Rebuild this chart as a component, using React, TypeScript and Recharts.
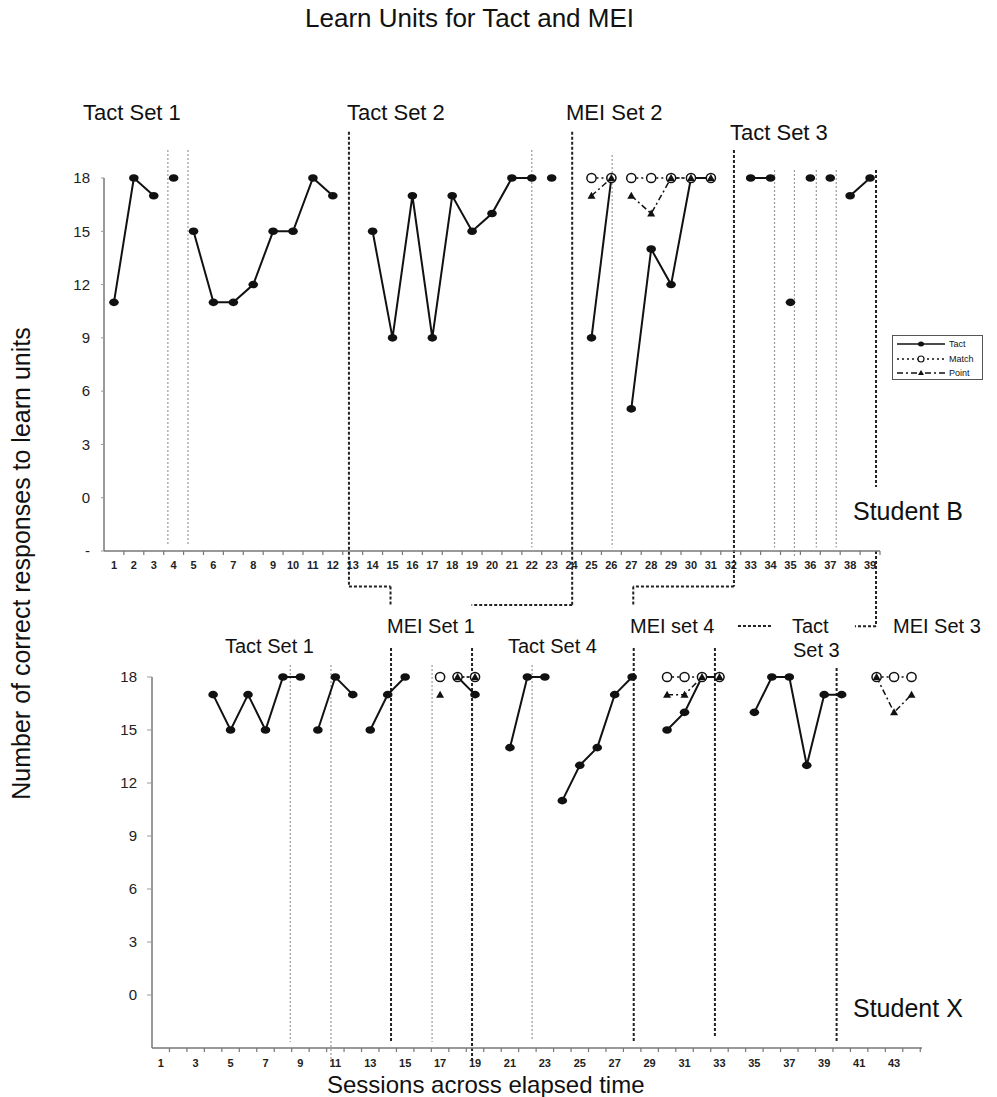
import React from 'react';
import { LineChart, Line, XAxis, YAxis, ReferenceLine } from 'recharts';

type Pt = [number, number];

// Student B (top panel): one array per connected run of sessions
const B_TACT: Pt[][] = [
  [[1, 11], [2, 18], [3, 17]],
  [[4, 18]],
  [[5, 15], [6, 11], [7, 11], [8, 12], [9, 15], [10, 15], [11, 18], [12, 17]],
  [[14, 15], [15, 9], [16, 17], [17, 9], [18, 17], [19, 15], [20, 16], [21, 18], [22, 18]],
  [[23, 18]],
  [[25, 9], [26, 18]],
  [[27, 5], [28, 14], [29, 12], [30, 18], [31, 18]],
  [[33, 18], [34, 18]],
  [[35, 11]],
  [[36, 18]],
  [[37, 18]],
  [[38, 17], [39, 18]],
];
const B_MATCH: Pt[][] = [
  [[25, 18], [26, 18]],
  [[27, 18], [28, 18], [29, 18], [30, 18], [31, 18]],
];
const B_POINT: Pt[][] = [
  [[25, 17], [26, 18]],
  [[27, 17], [28, 16], [29, 18], [30, 18], [31, 18]],
];

// Student X (bottom panel)
const X_TACT: Pt[][] = [
  [[4, 17], [5, 15], [6, 17], [7, 15], [8, 18], [9, 18]],
  [[10, 15], [11, 18], [12, 17]],
  [[13, 15], [14, 17], [15, 18]],
  [[18, 18], [19, 17]],
  [[21, 14], [22, 18], [23, 18]],
  [[24, 11], [25, 13], [26, 14], [27, 17], [28, 18]],
  [[30, 15], [31, 16], [32, 18], [33, 18]],
  [[35, 16], [36, 18], [37, 18], [38, 13], [39, 17], [40, 17]],
];
const X_MATCH: Pt[][] = [
  [[17, 18]],
  [[18, 18], [19, 18]],
  [[30, 18], [31, 18], [32, 18], [33, 18]],
  [[42, 18], [43, 18], [44, 18]],
];
const X_POINT: Pt[][] = [
  [[17, 17]],
  [[18, 18], [19, 18]],
  [[30, 17], [31, 17], [32, 18], [33, 18]],
  [[42, 18], [43, 16], [44, 17]],
];

const B_SESSIONS = Array.from({ length: 39 }, (_, i) => i + 1);
const X_SESSIONS = Array.from({ length: 44 }, (_, i) => i + 1);
const B_Y_TICKS = [-3, 0, 3, 6, 9, 12, 15, 18];
const X_Y_TICKS = [0, 3, 6, 9, 12, 15, 18];

// phase-change lines in session / score units: [session, top, bottom]
const B_MINOR: [number, number, number][] = [
  [3.71, 19.58, -2.7], [4.72, 19.58, -2.7], [22, 19.58, -2.8], [26.04, 19.3, -2.8],
  [34.2, 18.45, -2.8], [35.2, 18.45, -3.3], [36.3, 18.45, -2.8], [37.3, 18.45, -2.8],
];
const B_MAJOR: Pt[][] = [
  [[12.81, 20.6], [12.81, -5.0], [14.9, -5.0], [14.9, -6.04]],
  [[24.03, 20.6], [24.03, -6.04], [18.97, -6.04]],
  [[32.16, 19.58], [32.16, -5.0], [27.1, -5.0], [27.1, -6.04]],
  [[39.3, 18.45], [39.3, 0.6]],
  [[39.3, -3], [39.3, -7.23], [38.24, -7.23]],
];
const X_MINOR: [number, number, number][] = [
  [8.42, 18.68, -2.66], [10.75, 18.68, -3.79], [16.54, 18.68, -2.66], [22.27, 18.68, -2.55],
];
const X_MAJOR: [number, number, number][] = [
  [14.19, 19.64, -2.66], [18.83, 19.64, -3.79], [28.09, 19.64, -2.66],
  [32.74, 19.64, -2.37], [39.71, 18.51, -2.66],
];
const X_DASH: Pt[][] = [[[34.06, 20.89], [36.06, 20.89]]];

const LEGEND = ['Tact', 'Match', 'Point'];

const FONT = '"Liberation Sans", Arial, Helvetica, sans-serif';
const INK = '#111';

const TOP_MARGIN = { top: 178, right: 117, bottom: 69, left: 64 };
const BOT_MARGIN = { top: 117, right: 75, bottom: 19, left: 102 };
const B_DOMAIN: [number, number] = [0.5, 39.5];
const X_DOMAIN: [number, number] = [0.5, 44.6];
const B_HALF = (997 - 117 - 64 - 40) / (B_DOMAIN[1] - B_DOMAIN[0]) / 2;
const X_HALF = (997 - 75 - 102 - 50) / (X_DOMAIN[1] - X_DOMAIN[0]) / 2;

const rows = (seg: Pt[]) => seg.map(([s, v]) => ({ s, v }));

const tactDot = (p: any) =>
  p.cx == null ? <g key={p.index} /> : <ellipse key={p.index} cx={p.cx} cy={p.cy} rx={4.8} ry={3.8} fill={INK} />;
const matchDot = (p: any) =>
  p.cx == null ? <g key={p.index} /> : (
    <circle key={p.index} cx={p.cx} cy={p.cy} r={4.6} fill="#fff" stroke={INK} strokeWidth={1.5} />
  );
const pointDot = (p: any) =>
  p.cx == null ? <g key={p.index} /> : (
    <path key={p.index} d={`M${p.cx},${p.cy - 4}L${p.cx + 4},${p.cy + 3}L${p.cx - 4},${p.cy + 3}Z`} fill={INK} />
  );

function series(tact: Pt[][], match: Pt[][], point: Pt[][]) {
  return [
    ...tact.map((seg, i) => (
      <Line key={`t${i}`} data={rows(seg)} dataKey="v" type="linear" stroke={INK} strokeWidth={2}
        dot={tactDot} activeDot={false} isAnimationActive={false} legendType="none" />
    )),
    ...match.map((seg, i) => (
      <Line key={`m${i}`} data={rows(seg)} dataKey="v" type="linear" stroke={INK} strokeWidth={1.5}
        strokeDasharray="2 3" dot={matchDot} activeDot={false} isAnimationActive={false} legendType="none" />
    )),
    ...point.map((seg, i) => (
      <Line key={`p${i}`} data={rows(seg)} dataKey="v" type="linear" stroke={INK} strokeWidth={1.5}
        strokeDasharray="6 3 2 3" dot={pointDot} activeDot={false} isAnimationActive={false} legendType="none" />
    )),
  ];
}

const minorLines = (list: [number, number, number][], tag: string) =>
  list.map(([x, y1, y2], i) => (
    <ReferenceLine key={`${tag}${i}`} segment={[{ x, y: y1 }, { x, y: y2 }]} ifOverflow="visible"
      stroke="#9a9a9a" strokeWidth={1.2} strokeDasharray="2 2" />
  ));

const majorLines = (list: [number, number, number][], tag: string) =>
  list.map(([x, y1, y2], i) => (
    <ReferenceLine key={`${tag}${i}`} segment={[{ x, y: y1 }, { x, y: y2 }]} ifOverflow="visible"
      stroke="#222" strokeWidth={2} strokeDasharray="3 2" />
  ));

const paths = (list: Pt[][], tag: string) =>
  list.flatMap((path, j) =>
    path.slice(1).map((p, i) => (
      <ReferenceLine key={`${tag}${j}-${i}`} segment={[{ x: path[i][0], y: path[i][1] }, { x: p[0], y: p[1] }]}
        ifOverflow="visible" stroke="#222" strokeWidth={2} strokeDasharray="3 2" />
    ))
  );

const xTick = (half: number, show: (v: number) => boolean, dy: number) => (props: any) => {
  const { x, y, payload } = props;
  return (
    <g>
      <line x1={x + half} x2={x + half} y1={y} y2={y + 4} stroke="#777" strokeWidth={1.2} />
      {show(payload.value) && (
        <text x={x} y={y + dy} textAnchor="middle" fontSize={11} fontWeight="bold" fill="#222" fontFamily={FONT}>
          {payload.value}
        </text>
      )}
    </g>
  );
};

function Txt({ x, y, size, children }: { x: number; y: number; size: number; children: React.ReactNode }) {
  return (
    <div style={{ position: 'absolute', left: x, top: y - size * 0.49, fontSize: size, lineHeight: 1, whiteSpace: 'nowrap', color: INK }}>
      {children}
    </div>
  );
}

function LegendBox() {
  const rowY = [9, 24, 38];
  return (
    <svg width={92} height={46} style={{ position: 'absolute', left: 892, top: 335 }}>
      <rect x={0.5} y={0.5} width={90} height={44} fill="#fff" stroke="#555" />
      {LEGEND.map((name, i) => (
        <g key={name}>
          <line x1={5} x2={53} y1={rowY[i]} y2={rowY[i]} stroke={INK} strokeWidth={1.3}
            strokeDasharray={i === 0 ? undefined : i === 1 ? '2 3' : '6 3 2 3'} />
          {i === 0 && <ellipse cx={29} cy={rowY[i]} rx={3} ry={2.5} fill={INK} />}
          {i === 1 && <circle cx={29} cy={rowY[i]} r={3} fill="#fff" stroke={INK} strokeWidth={1.2} />}
          {i === 2 && <path d={`M29,${rowY[i] - 3}L32,${rowY[i] + 2}L26,${rowY[i] + 2}Z`} fill={INK} />}
          <text x={57} y={rowY[i] + 3} fontSize={9} fontFamily={FONT} fill={INK}>{name}</text>
        </g>
      ))}
    </svg>
  );
}

export default function App() {
  return (
    <div style={{ position: 'absolute', left: 0, top: 0, width: 997, height: 1097, background: '#fff', fontFamily: FONT, overflow: 'hidden' }}>
      <div style={{ position: 'absolute', left: 0, top: 0 }}>
        <LineChart width={997} height={650} margin={TOP_MARGIN}>
          <XAxis dataKey="s" type="number" domain={B_DOMAIN} ticks={B_SESSIONS}
            tickSize={0} tickMargin={0} tickLine={false} interval={0} height={30}
            axisLine={{ stroke: '#777', strokeWidth: 1.5 }} tick={xTick(B_HALF, () => true, 18)} />
          <YAxis type="number" domain={[-3, 18]} ticks={B_Y_TICKS} width={40} interval={0}
            tickSize={3} tickMargin={11} tickFormatter={(v: number) => (v === -3 ? '-' : String(v))}
            axisLine={{ stroke: '#777', strokeWidth: 1.5 }} tickLine={{ stroke: '#999' }}
            tick={{ fontSize: 15, fill: '#222', fontFamily: FONT }} />
          {minorLines(B_MINOR, 'bm')}
          {paths(B_MAJOR, 'bM')}
          {series(B_TACT, B_MATCH, B_POINT)}
        </LineChart>
      </div>
      <div style={{ position: 'absolute', left: 0, top: 560 }}>
        <LineChart width={997} height={537} margin={BOT_MARGIN}>
          <XAxis dataKey="s" type="number" domain={X_DOMAIN} ticks={X_SESSIONS}
            tickSize={0} tickMargin={0} tickLine={false} interval={0} height={30}
            axisLine={{ stroke: '#777', strokeWidth: 1.5 }}
            tick={xTick(X_HALF, (v) => v % 2 === 1 && v <= 43, 19)} />
          <YAxis type="number" domain={[-3, 18]} ticks={X_Y_TICKS} width={50} interval={0}
            tickSize={5} tickMargin={10}
            axisLine={{ stroke: '#777', strokeWidth: 1.5 }} tickLine={{ stroke: '#999' }}
            tick={{ fontSize: 15, fill: '#222', fontFamily: FONT }} />
          {minorLines(X_MINOR, 'xm')}
          {majorLines(X_MAJOR, 'xM')}
          {paths(X_DASH, 'xd')}
          {series(X_TACT, X_MATCH, X_POINT)}
        </LineChart>
      </div>

      <Txt x={305} y={18} size={26}>Learn Units for Tact and MEI</Txt>

      <Txt x={83} y={113} size={22}>Tact Set 1</Txt>
      <Txt x={347} y={113} size={22}>Tact Set 2</Txt>
      <Txt x={566} y={113} size={22}>MEI Set 2</Txt>
      <Txt x={730} y={133} size={22}>Tact Set 3</Txt>
      <Txt x={853} y={511} size={25}>Student B</Txt>

      <Txt x={225} y={646} size={20}>Tact Set 1</Txt>
      <Txt x={387} y={626} size={20}>MEI Set 1</Txt>
      <Txt x={508} y={646} size={20}>Tact Set 4</Txt>
      <Txt x={630} y={626} size={20}>MEI set 4</Txt>
      <Txt x={792} y={626} size={20}>Tact</Txt>
      <Txt x={793} y={650} size={20}>Set 3</Txt>
      <Txt x={893} y={626} size={20}>MEI Set 3</Txt>
      <Txt x={853} y={1008} size={25}>Student X</Txt>

      <Txt x={327} y={1085} size={24}>Sessions across elapsed time</Txt>

      <div style={{ position: 'absolute', left: 21 - 240, top: 563 - 12.5, width: 480, fontSize: 25, lineHeight: 1,
        textAlign: 'center', whiteSpace: 'nowrap', transform: 'rotate(-90deg)', color: INK }}>
        Number of correct responses to learn units
      </div>

      <LegendBox />
    </div>
  );
}
